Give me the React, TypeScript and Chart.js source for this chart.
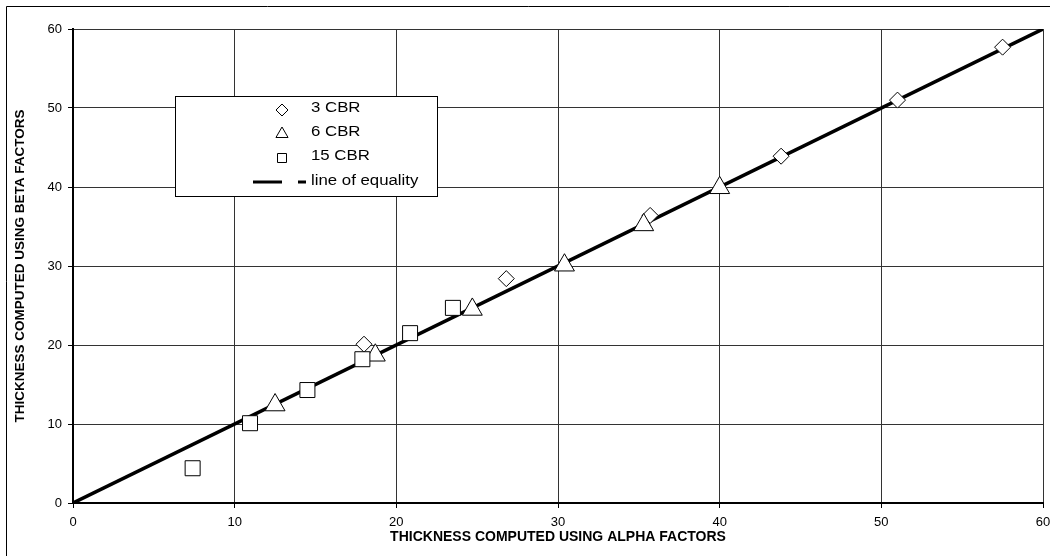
import React, { useEffect, useRef } from 'react';
import { Chart, registerables } from 'chart.js';

Chart.register(...registerables);

// ---- data ----
const cbr3X = [18.0, 26.8, 35.7, 43.8, 51.0, 57.5];
const cbr3Y = [20.1, 28.4, 36.4, 43.9, 51.0, 57.7];
const cbr6X = [12.5, 18.7, 24.7, 30.4, 35.3, 40.0];
const cbr6Y = [12.4, 18.7, 24.5, 30.1, 35.2, 39.9];
const cbr15X = [7.4, 10.95, 14.5, 17.9, 20.85, 23.5];
const cbr15Y = [4.4, 10.1, 14.3, 18.2, 21.5, 24.7];
const equalityX = [0, 60];
const equalityY = [0, 60];
const seriesNames = ['3 CBR', '6 CBR', '15 CBR', 'line of equality'];
const axisMin = 0;
const axisMax = 60;
const axisStep = 10;
const xTitle = 'THICKNESS COMPUTED USING ALPHA FACTORS';
const yTitle = 'THICKNESS COMPUTED USING BETA FACTORS';

const FONT = "'Liberation Sans', Arial, sans-serif";

const toPoints = (xs: number[], ys: number[]) => xs.map((x, i) => ({ x, y: ys[i] }));

const framePlugin = {
  id: 'frame',
  beforeDraw(chart: any) {
    const ctx = chart.ctx;
    ctx.save();
    ctx.fillStyle = '#ffffff';
    ctx.fillRect(0, 0, chart.width, chart.height);
    ctx.strokeStyle = '#000000';
    ctx.lineWidth = 1;
    ctx.beginPath();
    ctx.moveTo(6.5, chart.height + 5);
    ctx.lineTo(6.5, 6.5);
    ctx.lineTo(chart.width + 5, 6.5);
    ctx.stroke();
    ctx.restore();
  },
};

const legendPlugin = {
  id: 'boxLegend',
  afterDatasetsDraw(chart: any) {
    const ctx = chart.ctx;
    ctx.save();
    const L = 175.5, T = 96.5, W = 262, H = 100;
    ctx.fillStyle = '#ffffff';
    ctx.fillRect(L, T, W, H);
    ctx.strokeStyle = '#000000';
    ctx.lineWidth = 1;
    ctx.strokeRect(L, T, W, H);
    const mx = 282;
    const rows = [110, 134, 158, 182];
    ctx.fillStyle = '#ffffff';
    ctx.lineWidth = 1;
    // diamond
    let r = 6;
    ctx.beginPath();
    ctx.moveTo(mx - r, rows[0]);
    ctx.lineTo(mx, rows[0] - r);
    ctx.lineTo(mx + r, rows[0]);
    ctx.lineTo(mx, rows[0] + r);
    ctx.closePath();
    ctx.fill();
    ctx.stroke();
    // triangle
    r = 7;
    ctx.beginPath();
    ctx.moveTo(mx, rows[1] - r);
    ctx.lineTo(mx + r * 0.866, rows[1] + r / 2);
    ctx.lineTo(mx - r * 0.866, rows[1] + r / 2);
    ctx.closePath();
    ctx.fill();
    ctx.stroke();
    // square
    ctx.beginPath();
    ctx.rect(mx - 4.5, rows[2] - 4.5, 9, 9);
    ctx.fill();
    ctx.stroke();
    // line
    ctx.strokeStyle = '#000000';
    ctx.lineWidth = 3;
    ctx.beginPath();
    ctx.moveTo(253, rows[3]);
    ctx.lineTo(282, rows[3]);
    ctx.moveTo(298, rows[3]);
    ctx.lineTo(306, rows[3]);
    ctx.stroke();
    // text
    ctx.fillStyle = '#000000';
    ctx.font = `14px ${FONT}`;
    ctx.textBaseline = 'middle';
    ctx.textAlign = 'left';
    const textY = [108.5, 132, 156.5, 181];
    seriesNames.forEach((name, i) => {
      ctx.save();
      ctx.translate(311, textY[i]);
      ctx.scale(1.2, 1);
      ctx.fillText(name, 0, 0);
      ctx.restore();
    });
    ctx.restore();
  },
};

export default function App() {
  const canvasRef = useRef<HTMLCanvasElement | null>(null);

  useEffect(() => {
    const canvas = canvasRef.current;
    if (!canvas) return;
    const markerCommon = {
      backgroundColor: '#ffffff',
      borderColor: '#000000',
      pointBackgroundColor: '#ffffff',
      pointBorderColor: '#000000',
      pointBorderWidth: 1,
      showLine: false,
    };
    const chart = new Chart(canvas, {
      type: 'scatter',
      data: {
        datasets: [
          {
            ...markerCommon,
            label: seriesNames[2],
            data: toPoints(cbr15X, cbr15Y),
            pointStyle: 'rect',
            pointRadius: 10.6,
            order: 0,
          },
          {
            ...markerCommon,
            label: seriesNames[1],
            data: toPoints(cbr6X, cbr6Y),
            pointStyle: 'triangle',
            pointRadius: 11.5,
            order: 1,
          },
          {
            ...markerCommon,
            label: seriesNames[0],
            data: toPoints(cbr3X, cbr3Y),
            pointStyle: 'rectRot',
            pointRadius: 8,
            order: 2,
          },
          {
            type: 'line',
            label: seriesNames[3],
            data: toPoints(equalityX, equalityY),
            showLine: true,
            borderColor: '#000000',
            backgroundColor: '#000000',
            borderWidth: 3.5,
            pointRadius: 0,
            fill: false,
            order: 10,
          } as any,
        ],
      },
      options: {
        responsive: false,
        animation: false,
        events: [],
        layout: { autoPadding: false, padding: { left: 0, right: 7, top: 29, bottom: 0 } },
        plugins: {
          legend: { display: false },
          tooltip: { enabled: false },
        },
        scales: {
          x: {
            type: 'linear',
            min: axisMin,
            max: axisMax,
            ticks: {
              stepSize: axisStep,
              color: '#000000',
              font: { family: FONT, size: 13 },
              padding: 6.5,
              maxRotation: 0,
            },
            grid: { color: '#333333', lineWidth: 1, tickLength: 5, tickColor: '#000000', drawTicks: true },
            border: { display: true, color: '#000000', width: 2 },
            title: {
              display: true,
              text: xTitle,
              color: '#000000',
              font: { family: FONT, size: 14, weight: 'bold' },
              padding: { top: 0, bottom: 10.5 },
            },
            afterFit: (scale: any) => {
              scale.height = 53;
              scale.paddingLeft = 0;
              scale.paddingRight = 0;
            },
          },
          y: {
            type: 'linear',
            min: axisMin,
            max: axisMax,
            ticks: {
              stepSize: axisStep,
              color: '#000000',
              font: { family: FONT, size: 13 },
              padding: 6,
            },
            grid: { color: '#333333', lineWidth: 1, tickLength: 5, tickColor: '#000000', drawTicks: true },
            border: { display: true, color: '#000000', width: 2 },
            title: {
              display: true,
              text: yTitle,
              color: '#000000',
              font: { family: FONT, size: 13.5, weight: 'bold' },
              padding: { top: 12, bottom: 0 },
            },
            afterFit: (scale: any) => {
              scale.width = 73;
              scale.paddingTop = 0;
              scale.paddingBottom = 0;
            },
          },
        },
      },
      plugins: [framePlugin, legendPlugin],
    });
    return () => chart.destroy();
  }, []);

  return (
    <div style={{ position: 'fixed', left: 0, top: 0, width: 1050, height: 556, background: '#fff' }}>
      <canvas ref={canvasRef} width={1050} height={556} style={{ display: 'block', width: 1050, height: 556 }} />
    </div>
  );
}
